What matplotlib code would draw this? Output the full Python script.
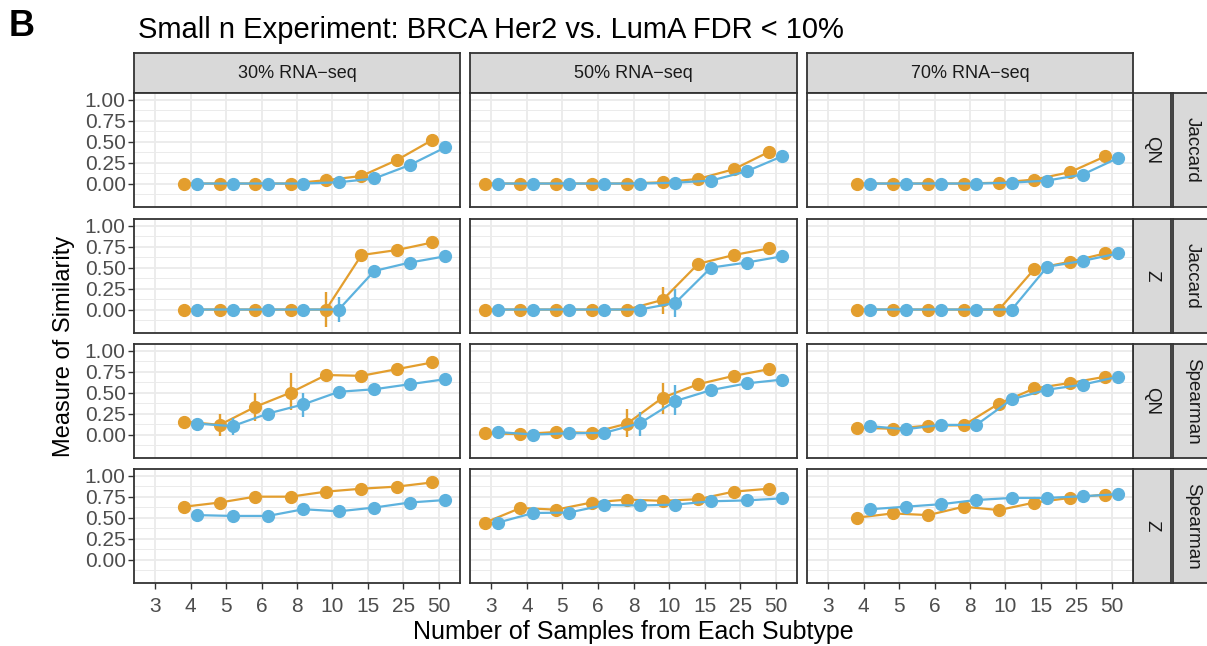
import numpy as np
import matplotlib
matplotlib.use('Agg')
from matplotlib import pyplot as plt

plt.rcParams['font.family'] = ['Liberation Sans', 'DejaVu Sans']

# sample sizes per subtype (discrete x axis)
sample_sizes = ['3', '4', '5', '6', '8', '10', '15', '25', '50']
rna_pcts = ['30% RNA\u2212seq', '50% RNA\u2212seq', '70% RNA\u2212seq']
row_norms = ['QN', 'Z', 'QN', 'Z']
row_metrics = ['Jaccard', 'Jaccard', 'Spearman', 'Spearman']
nan = np.nan

# QN / Jaccard
qn_jac_30_orange = [nan, 0, 0, 0, 0, 0.04, 0.09, 0.28, 0.52]
qn_jac_30_blue = [nan, 0, 0, 0, 0, 0.015, 0.06, 0.22, 0.43]
qn_jac_50_orange = [0, 0, 0, 0, 0, 0.015, 0.055, 0.17, 0.38]
qn_jac_50_blue = [0, 0, 0, 0, 0, 0.01, 0.035, 0.145, 0.325]
qn_jac_70_orange = [nan, 0, 0, 0, 0, 0.01, 0.048, 0.135, 0.325]
qn_jac_70_blue = [nan, 0, 0, 0, 0, 0.01, 0.036, 0.107, 0.305]

# Z / Jaccard
z_jac_30_orange = [nan, 0, 0, 0, 0, 0, 0.65, 0.71, 0.80]
z_jac_30_blue = [nan, 0, 0, 0, 0, 0, 0.46, 0.56, 0.635]
z_jac_50_orange = [0, 0, 0, 0, 0, 0.115, 0.545, 0.65, 0.73]
z_jac_50_blue = [0, 0, 0, 0, 0, 0.08, 0.50, 0.56, 0.635]
z_jac_70_orange = [nan, 0, 0, 0, 0, 0, 0.485, 0.57, 0.67]
z_jac_70_blue = [nan, 0, 0, 0, 0, 0, 0.51, 0.58, 0.67]

# QN / Spearman
qn_spe_30_orange = [nan, 0.155, 0.115, 0.33, 0.50, 0.71, 0.70, 0.78, 0.86]
qn_spe_30_blue = [nan, 0.13, 0.10, 0.25, 0.36, 0.51, 0.54, 0.60, 0.66]
qn_spe_50_orange = [0.015, 0.005, 0.03, 0.02, 0.13, 0.44, 0.60, 0.70, 0.78]
qn_spe_50_blue = [0.03, 0.0, 0.015, 0.02, 0.135, 0.40, 0.53, 0.61, 0.655]
qn_spe_70_orange = [nan, 0.083, 0.068, 0.107, 0.11, 0.37, 0.55, 0.615, 0.69]
qn_spe_70_blue = [nan, 0.10, 0.063, 0.115, 0.115, 0.42, 0.535, 0.595, 0.69]

# Z / Spearman
z_spe_30_orange = [nan, 0.63, 0.68, 0.75, 0.75, 0.81, 0.845, 0.87, 0.92]
z_spe_30_blue = [nan, 0.53, 0.52, 0.52, 0.60, 0.575, 0.62, 0.68, 0.71]
z_spe_50_orange = [0.44, 0.615, 0.595, 0.68, 0.715, 0.70, 0.72, 0.81, 0.845]
z_spe_50_blue = [0.44, 0.555, 0.56, 0.65, 0.645, 0.655, 0.695, 0.705, 0.73]
z_spe_70_orange = [nan, 0.50, 0.55, 0.53, 0.63, 0.59, 0.68, 0.735, 0.775]
z_spe_70_blue = [nan, 0.60, 0.63, 0.66, 0.71, 0.735, 0.735, 0.755, 0.78]

# error bar ranges (lower, upper), nan where there is no bar
z_jac_30_orange_lo = [nan] * 5 + [-0.21] + [nan] * 3
z_jac_30_orange_hi = [nan] * 5 + [0.21] + [nan] * 3
z_jac_30_blue_lo = [nan] * 5 + [-0.15] + [nan] * 3
z_jac_30_blue_hi = [nan] * 5 + [0.15] + [nan] * 3
z_jac_50_orange_lo = [nan] * 5 + [-0.05] + [nan] * 3
z_jac_50_orange_hi = [nan] * 5 + [0.27] + [nan] * 3
z_jac_50_blue_lo = [nan] * 5 + [-0.09] + [nan] * 3
z_jac_50_blue_hi = [nan] * 5 + [0.25] + [nan] * 3
qn_spe_30_orange_lo = [nan, 0.11, -0.02, 0.16, 0.29, 0.66, nan, nan, nan]
qn_spe_30_orange_hi = [nan, 0.20, 0.25, 0.49, 0.73, 0.76, nan, nan, nan]
qn_spe_30_blue_lo = [nan, nan, 0.0, 0.20, 0.21, nan, nan, nan, nan]
qn_spe_30_blue_hi = [nan, nan, 0.20, 0.30, 0.50, nan, nan, nan, nan]
qn_spe_50_orange_lo = [nan] * 4 + [-0.03, 0.24] + [nan] * 3
qn_spe_50_orange_hi = [nan] * 4 + [0.30, 0.62] + [nan] * 3
qn_spe_50_blue_lo = [nan] * 4 + [-0.02, 0.23] + [nan] * 3
qn_spe_50_blue_hi = [nan] * 4 + [0.27, 0.59] + [nan] * 3
qn_spe_70_orange_lo = [nan] * 4 + [0.05] + [nan] * 4
qn_spe_70_orange_hi = [nan] * 4 + [0.17] + [nan] * 4
qn_spe_70_blue_lo = [nan] * 4 + [0.05] + [nan] * 4
qn_spe_70_blue_hi = [nan] * 4 + [0.18] + [nan] * 4

panels = [
    [(qn_jac_30_orange, qn_jac_30_blue, None), (qn_jac_50_orange, qn_jac_50_blue, None),
     (qn_jac_70_orange, qn_jac_70_blue, None)],
    [(z_jac_30_orange, z_jac_30_blue,
      (z_jac_30_orange_lo, z_jac_30_orange_hi, z_jac_30_blue_lo, z_jac_30_blue_hi)),
     (z_jac_50_orange, z_jac_50_blue,
      (z_jac_50_orange_lo, z_jac_50_orange_hi, z_jac_50_blue_lo, z_jac_50_blue_hi)),
     (z_jac_70_orange, z_jac_70_blue, None)],
    [(qn_spe_30_orange, qn_spe_30_blue,
      (qn_spe_30_orange_lo, qn_spe_30_orange_hi, qn_spe_30_blue_lo, qn_spe_30_blue_hi)),
     (qn_spe_50_orange, qn_spe_50_blue,
      (qn_spe_50_orange_lo, qn_spe_50_orange_hi, qn_spe_50_blue_lo, qn_spe_50_blue_hi)),
     (qn_spe_70_orange, qn_spe_70_blue,
      (qn_spe_70_orange_lo, qn_spe_70_orange_hi, qn_spe_70_blue_lo, qn_spe_70_blue_hi))],
    [(z_spe_30_orange, z_spe_30_blue, None), (z_spe_50_orange, z_spe_50_blue, None),
     (z_spe_70_orange, z_spe_70_blue, None)],
]

ORANGE = '#E39E2E'
BLUE = '#5DB2DE'
BORDER = '#333333'
GRID = '#EBEBEB'
STRIP = '#D9D9D9'

W, H = 1207, 646
fig = plt.figure(figsize=(W / 100, H / 100), dpi=100)


def box(left, top, right, bottom):
    # pixel box -> figure fraction rect
    return [left / W, 1 - bottom / H, (right - left) / W, (bottom - top) / H]


def strip(rect, label, rotation=0, size=13):
    s = fig.add_axes(rect)
    s.set_facecolor(STRIP)
    s.set_xticks([])
    s.set_yticks([])
    for sp in s.spines.values():
        sp.set_color(BORDER)
        sp.set_linewidth(1.3)
    s.text(0.5, 0.5, label, transform=s.transAxes, ha='center', va='center',
           fontsize=size, color='#1A1A1A', rotation=rotation)
    return s


col_x = [(134, 460), (470, 797), (807, 1133)]
row_y = [(93, 207), (219, 333), (344, 458), (469, 583)]
x = np.arange(1, len(sample_sizes) + 1)
dodge = 0.18

for j, (l, r) in enumerate(col_x):
    strip(box(l, 53, r, 93), rna_pcts[j])

for i, (t, b) in enumerate(row_y):
    strip(box(1133, t, 1171, b), row_norms[i], rotation=270, size=13.5)
    strip(box(1173, t, 1212, b), row_metrics[i], rotation=270, size=13.5)
    for j, (l, r) in enumerate(col_x):
        ax = fig.add_axes(box(l, t, r, b))
        orange, blue, errs = panels[i][j]
        ax.set_xlim(0.4, 9.6)
        ax.set_ylim(-0.28, 1.08)
        ax.set_xticks(x)
        ax.set_yticks([0, 0.25, 0.5, 0.75, 1.0])
        ax.set_yticks([-0.125, 0.125, 0.375, 0.625, 0.875], minor=True)
        ax.grid(which='major', color=GRID, lw=1.3, zorder=0)
        ax.grid(which='minor', axis='y', color=GRID, lw=0.7, zorder=0)
        ax.tick_params(which='minor', length=0)
        ax.set_axisbelow(True)
        for sp in ax.spines.values():
            sp.set_color(BORDER)
            sp.set_linewidth(1.3)

        if errs is not None:
            ax.vlines(x - dodge, errs[0], errs[1], color=ORANGE, lw=1.7, zorder=2)
            ax.vlines(x + dodge, errs[2], errs[3], color=BLUE, lw=1.7, zorder=3)
        ax.plot(x - dodge, orange, '-o', color=ORANGE, lw=1.6, ms=8.5, zorder=2)
        ax.plot(x + dodge, blue, '-o', color=BLUE, lw=1.6, ms=8.5, zorder=3)

        ax.tick_params(axis='both', color=BORDER, length=4, width=1, labelsize=15,
                       labelcolor='#4D4D4D', pad=2)
        ax.tick_params(axis='x', pad=6)
        if j == 0:
            ax.set_yticklabels(['0.00', '0.25', '0.50', '0.75', '1.00'])
        else:
            ax.tick_params(axis='y', length=0, labelleft=False)
        if i == len(row_y) - 1:
            ax.set_xticklabels(sample_sizes)
        else:
            ax.tick_params(axis='x', length=0, labelbottom=False)

fig.text(9 / W, 1 - 26 / H, 'B', fontsize=26, fontweight='bold', ha='left', va='center')
fig.text(138 / W, 1 - 30 / H, 'Small n Experiment: BRCA Her2 vs. LumA FDR < 10%',
         fontsize=21, ha='left', va='center')
fig.text(633 / W, 1 - 632 / H, 'Number of Samples from Each Subtype',
         fontsize=18, ha='center', va='center')
fig.text(64 / W, 1 - 346 / H, 'Measure of Similarity', fontsize=17,
         rotation=90, ha='center', va='center')

fig.savefig('out.png', dpi=100)
